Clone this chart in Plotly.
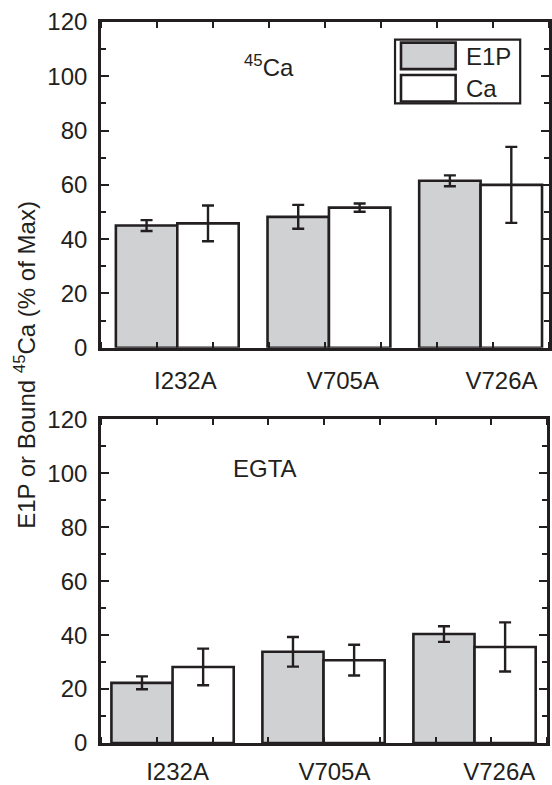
import plotly.graph_objects as go

# ---------------- data ----------------
categories = ["I232A", "V705A", "V726A"]
series_names = ["E1P", "Ca"]

ca_e1p = [45.0, 48.2, 61.5]
ca_e1p_err = [2.0, 4.4, 2.0]
ca_ca = [45.8, 51.6, 60.0]
ca_ca_err = [6.6, 1.5, 14.0]

egta_e1p = [22.3, 33.8, 40.4]
egta_e1p_err = [2.4, 5.5, 2.9]
egta_ca = [28.2, 30.7, 35.6]
egta_ca_err = [6.8, 5.7, 9.1]

y_ticks = [0, 20, 40, 60, 80, 100, 120]

# ---------------- style ----------------
DARK = "#231f20"
GRAY = "#d0d1d3"
WHITE = "#ffffff"
FONT = "Liberation Sans, Arial, sans-serif"
FS = 24

W, H = 552, 785
ML, MR, MT, MB = 101, 0, 22, 28
PW = W - ML - MR
PH = H - MT - MB


def px_x(p):
    return (p - ML) / PW


def px_y(p):
    return (H - MB - p) / PH


pos = list(range(1, len(categories) + 1))

fig = go.Figure()


def add_bars(vals, errs, color, xa, ya, name):
    fig.add_trace(go.Bar(
        x=pos, y=vals, name=name,
        marker=dict(color=color, line=dict(color=DARK, width=2.6)),
        error_y=dict(type="data", array=errs, visible=True,
                     color=DARK, thickness=2.4, width=6),
        xaxis=xa, yaxis=ya, showlegend=False,
    ))


add_bars(ca_e1p, ca_e1p_err, GRAY, "x", "y", series_names[0])
add_bars(ca_ca, ca_ca_err, WHITE, "x", "y", series_names[1])
add_bars(egta_e1p, egta_e1p_err, GRAY, "x2", "y2", series_names[0])
add_bars(egta_ca, egta_ca_err, WHITE, "x2", "y2", series_names[1])

top_range = [0.497, 3.451]
bot_range = [0.526, 3.480]


def xaxis_cfg(rng, domain, anchor, labelpos, standoff):
    return dict(
        domain=domain, anchor=anchor, range=rng,
        tickmode="array", tickvals=labelpos, ticktext=categories,
        ticks="", showline=True, linecolor=DARK, linewidth=2.6,
        mirror="ticks", showgrid=False, zeroline=False,
        tickfont=dict(family=FONT, size=FS, color=DARK),
        ticklabelstandoff=standoff,
        minor=dict(ticks="inside", tick0=rng[0], dtick=(rng[1] - rng[0]) / 8,
                   ticklen=6, tickwidth=2, tickcolor=DARK, showgrid=False),
    )


def yaxis_cfg(domain, anchor):
    return dict(
        domain=domain, anchor=anchor, range=[0, 120],
        tickmode="array", tickvals=y_ticks,
        ticks="inside", ticklen=8, tickwidth=2.2, tickcolor=DARK,
        showline=True, linecolor=DARK, linewidth=2.6, mirror="ticks",
        showgrid=False, zeroline=False,
        tickfont=dict(family=FONT, size=FS, color=DARK),
        ticklabelstandoff=6,
        minor=dict(ticks="inside", dtick=10, ticklen=5, tickwidth=2,
                   tickcolor=DARK, showgrid=False),
    )


top_dom = [px_y(354), 1.0]
bot_dom = [0.0, px_y(427)]

fig.update_layout(
    width=W, height=H,
    margin=dict(l=ML, r=MR, t=MT, b=MB, pad=0),
    paper_bgcolor="white", plot_bgcolor="white",
    barmode="group", bargap=0.19, bargroupgap=0.0,
    font=dict(family=FONT, size=FS, color=DARK),
    xaxis=xaxis_cfg(top_range, [0, 1], "y", [1.053, 2.092, 3.138], 10),
    yaxis=yaxis_cfg(top_dom, "x"),
    xaxis2=xaxis_cfg(bot_range, [0, px_x(550)], "y2", [1.033, 2.072, 3.164], 5),
    yaxis2=yaxis_cfg(bot_dom, "x2"),
)


def label(text, x, y, xanchor="center", angle=0):
    fig.add_annotation(text=text, xref="paper", yref="paper",
                       x=x, y=y, xanchor=xanchor, yanchor="middle",
                       textangle=angle, showarrow=False,
                       font=dict(family=FONT, size=FS, color=DARK))


# panel labels
label("<sup>45</sup>Ca", px_x(270), px_y(67))
label("EGTA", px_x(266), px_y(477))

# y-axis title
label("E1P or Bound <sup>45</sup>Ca (% of Max)", px_x(25), px_y(372), angle=-90)

# legend box (manual, large swatches)
fig.add_shape(type="rect", xref="paper", yref="paper",
              x0=px_x(397), x1=px_x(523), y0=px_y(105), y1=px_y(40),
              line=dict(color=DARK, width=2.2), fillcolor="white")
for i, (nm, col) in enumerate(zip(series_names, [GRAY, WHITE])):
    top = 43 + i * 33
    fig.add_shape(type="rect", xref="paper", yref="paper",
                  x0=px_x(403), x1=px_x(458), y0=px_y(top + 27), y1=px_y(top),
                  line=dict(color=DARK, width=2.6), fillcolor=col)
    label(nm, px_x(466), px_y(top + 14), xanchor="left")

fig.write_html("out.html")
